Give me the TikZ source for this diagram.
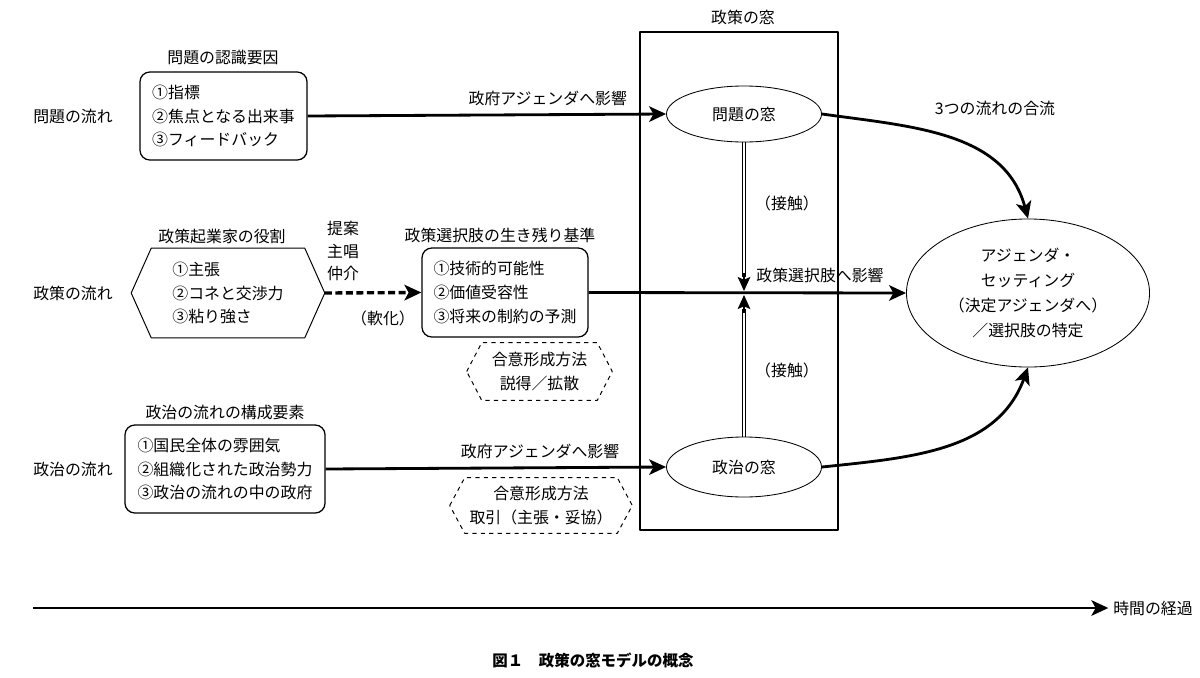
\documentclass[tikz,border=0pt]{standalone}
\usepackage{fontspec}
\setmainfont{Noto Sans CJK JP}
\usetikzlibrary{arrows.meta,calc,shapes.geometric}

\begin{document}
\begin{tikzpicture}[x=0.025cm,y=-0.025cm,line join=round,
  >={Stealth[length=12pt,width=11pt,inset=3pt]},
  font=\fontsize{11.3}{17}\selectfont,
  box/.style={draw,rounded corners=7pt,line width=0.9pt,align=left,inner sep=0pt},
  hexa/.style={align=center,inner sep=0pt},
  win/.style={draw,ellipse,line width=0.6pt,inner sep=0pt},
  flow/.style={->,line width=2pt},
  smalltip/.style={->,line width=0.8pt,>={Stealth[length=10pt,width=9pt,inset=2pt]}}]
\useasboundingbox (0,0) rectangle (1200,677);

% the window
\draw[line width=1.4pt] (640,32) rectangle (838,530);
\node (madolbl) at (743,17) {政策の窓};
\node[win,minimum width=3.875cm,minimum height=1.4cm] (mondai) at (744,114) {問題の窓};
\node[win,minimum width=3.875cm,minimum height=1.5cm] (seiji) at (744,467) {政治の窓};
\node[win,minimum width=6.075cm,minimum height=3.7cm,align=center,
  font=\fontsize{11.3}{17.7}\selectfont] (agenda) at (1028,293)
  {アジェンダ・\\セッティング\\（決定アジェンダへ）\\／選択肢の特定};

% three streams
\foreach \n/\t/\y in {s1/問題の流れ/116,s2/政策の流れ/293,s3/政治の流れ/469}
  \node (\n) at (73,\y) {\t};

\node[box,minimum width=4.175cm,minimum height=2.2cm] (ninshiki) at (223.5,116)
  {①指標\\②焦点となる出来事\\③フィードバック};
\node (ninshikilbl) at (223,58) {問題の認識要因};

\node[hexa,minimum width=3.825cm,minimum height=2.225cm,align=left] (kigyo) at (228,293)
  {①主張\\②コネと交渉力\\③粘り強さ};
\node (kigyolbl) at (222,236) {政策起業家の役割};

\node[box,minimum width=4.15cm,minimum height=2.225cm] (kijun) at (505,292.5)
  {①技術的可能性\\②価値受容性\\③将来の制約の予測};
\node (kijunlbl) at (500,235) {政策選択肢の生き残り基準};

\node[box,minimum width=5cm,minimum height=2.2cm] (yoso) at (225,469)
  {①国民全体の雰囲気\\②組織化された政治勢力\\③政治の流れの中の政府};
\node (yosolbl) at (225,413) {政治の流れの構成要素};

\node[hexa,minimum width=2.875cm,minimum height=1.425cm] (goi1) at (539.5,371.5)
  {合意形成方法\\説得／拡散};
\node[hexa,minimum width=3.8cm,minimum height=1.375cm] (goi2) at (541,505.5)
  {合意形成方法\\取引（主張・妥協）};

\foreach \n/\d/\s in {kigyo/20/solid,goi1/15/dashed,goi2/15/dashed}
  \draw[\s,line width=0.7pt] ($(\n.west)+(-\d,0)$) -- (\n.north west) -- (\n.north east)
    -- ($(\n.east)+(\d,0)$) -- (\n.south east) -- (\n.south west) -- cycle;
\coordinate (kigyoR) at ($(kigyo.east)+(20,0)$);

\node[align=center,font=\fontsize{11.3}{16.3}\selectfont] (teian) at (343,251) {提案\\主唱\\仲介};
\node (nanka) at (383,318) {（軟化）};

% connectors
\draw[flow] (ninshiki.east) -- (mondai.west)
  node[pos=0.67,above=2pt] (eikyo1) {政府アジェンダへ影響};
\draw[flow] (yoso.east) -- (seiji.west)
  node[pos=0.63,above=2pt] (eikyo3) {政府アジェンダへ影響};
\draw[->,line width=2.4pt,dash pattern=on 5pt off 2.5pt] (kigyoR) -- (kijun.west);
\draw[flow] (kijun.east) -- (agenda.west);
\node (eikyo2) at (820,275) {政策選択肢へ影響};

% contact between the windows
\coordinate (c1) at (744,291);
\coordinate (c2) at (744,295);
\foreach \dx in {-1.6,1.6}{
  \draw[line width=0.5pt] ($(mondai.south)+(\dx,0)$) -- ($(c1)+(\dx,-14)$);
  \draw[line width=0.5pt] ($(seiji.north)+(\dx,0)$) -- ($(c2)+(\dx,14)$);
}
\draw[smalltip] ($(c1)+(0,-18)$) -- (c1);
\draw[smalltip] ($(c2)+(0,18)$) -- (c2);
\node (sesshoku1) at (787,203) {（接触）};
\node (sesshoku2) at (787,370) {（接触）};

\draw[flow] (mondai.east) to[out=-8,in=105] (agenda.north);
\draw[flow] (seiji.east) to[out=6,in=-110] (agenda.south);
\node (goryu) at (995,108) {3つの流れの合流};

% time axis
\node (keika) at (1153,608) {時間の経過};
\coordinate (t0) at (33,608);
\draw[flow] (t0) -- (keika.west);

\node[font=\fontsize{11}{13}\selectfont\bfseries] (caption) at (593,660) {図１　政策の窓モデルの概念};
\end{tikzpicture}
\end{document}
